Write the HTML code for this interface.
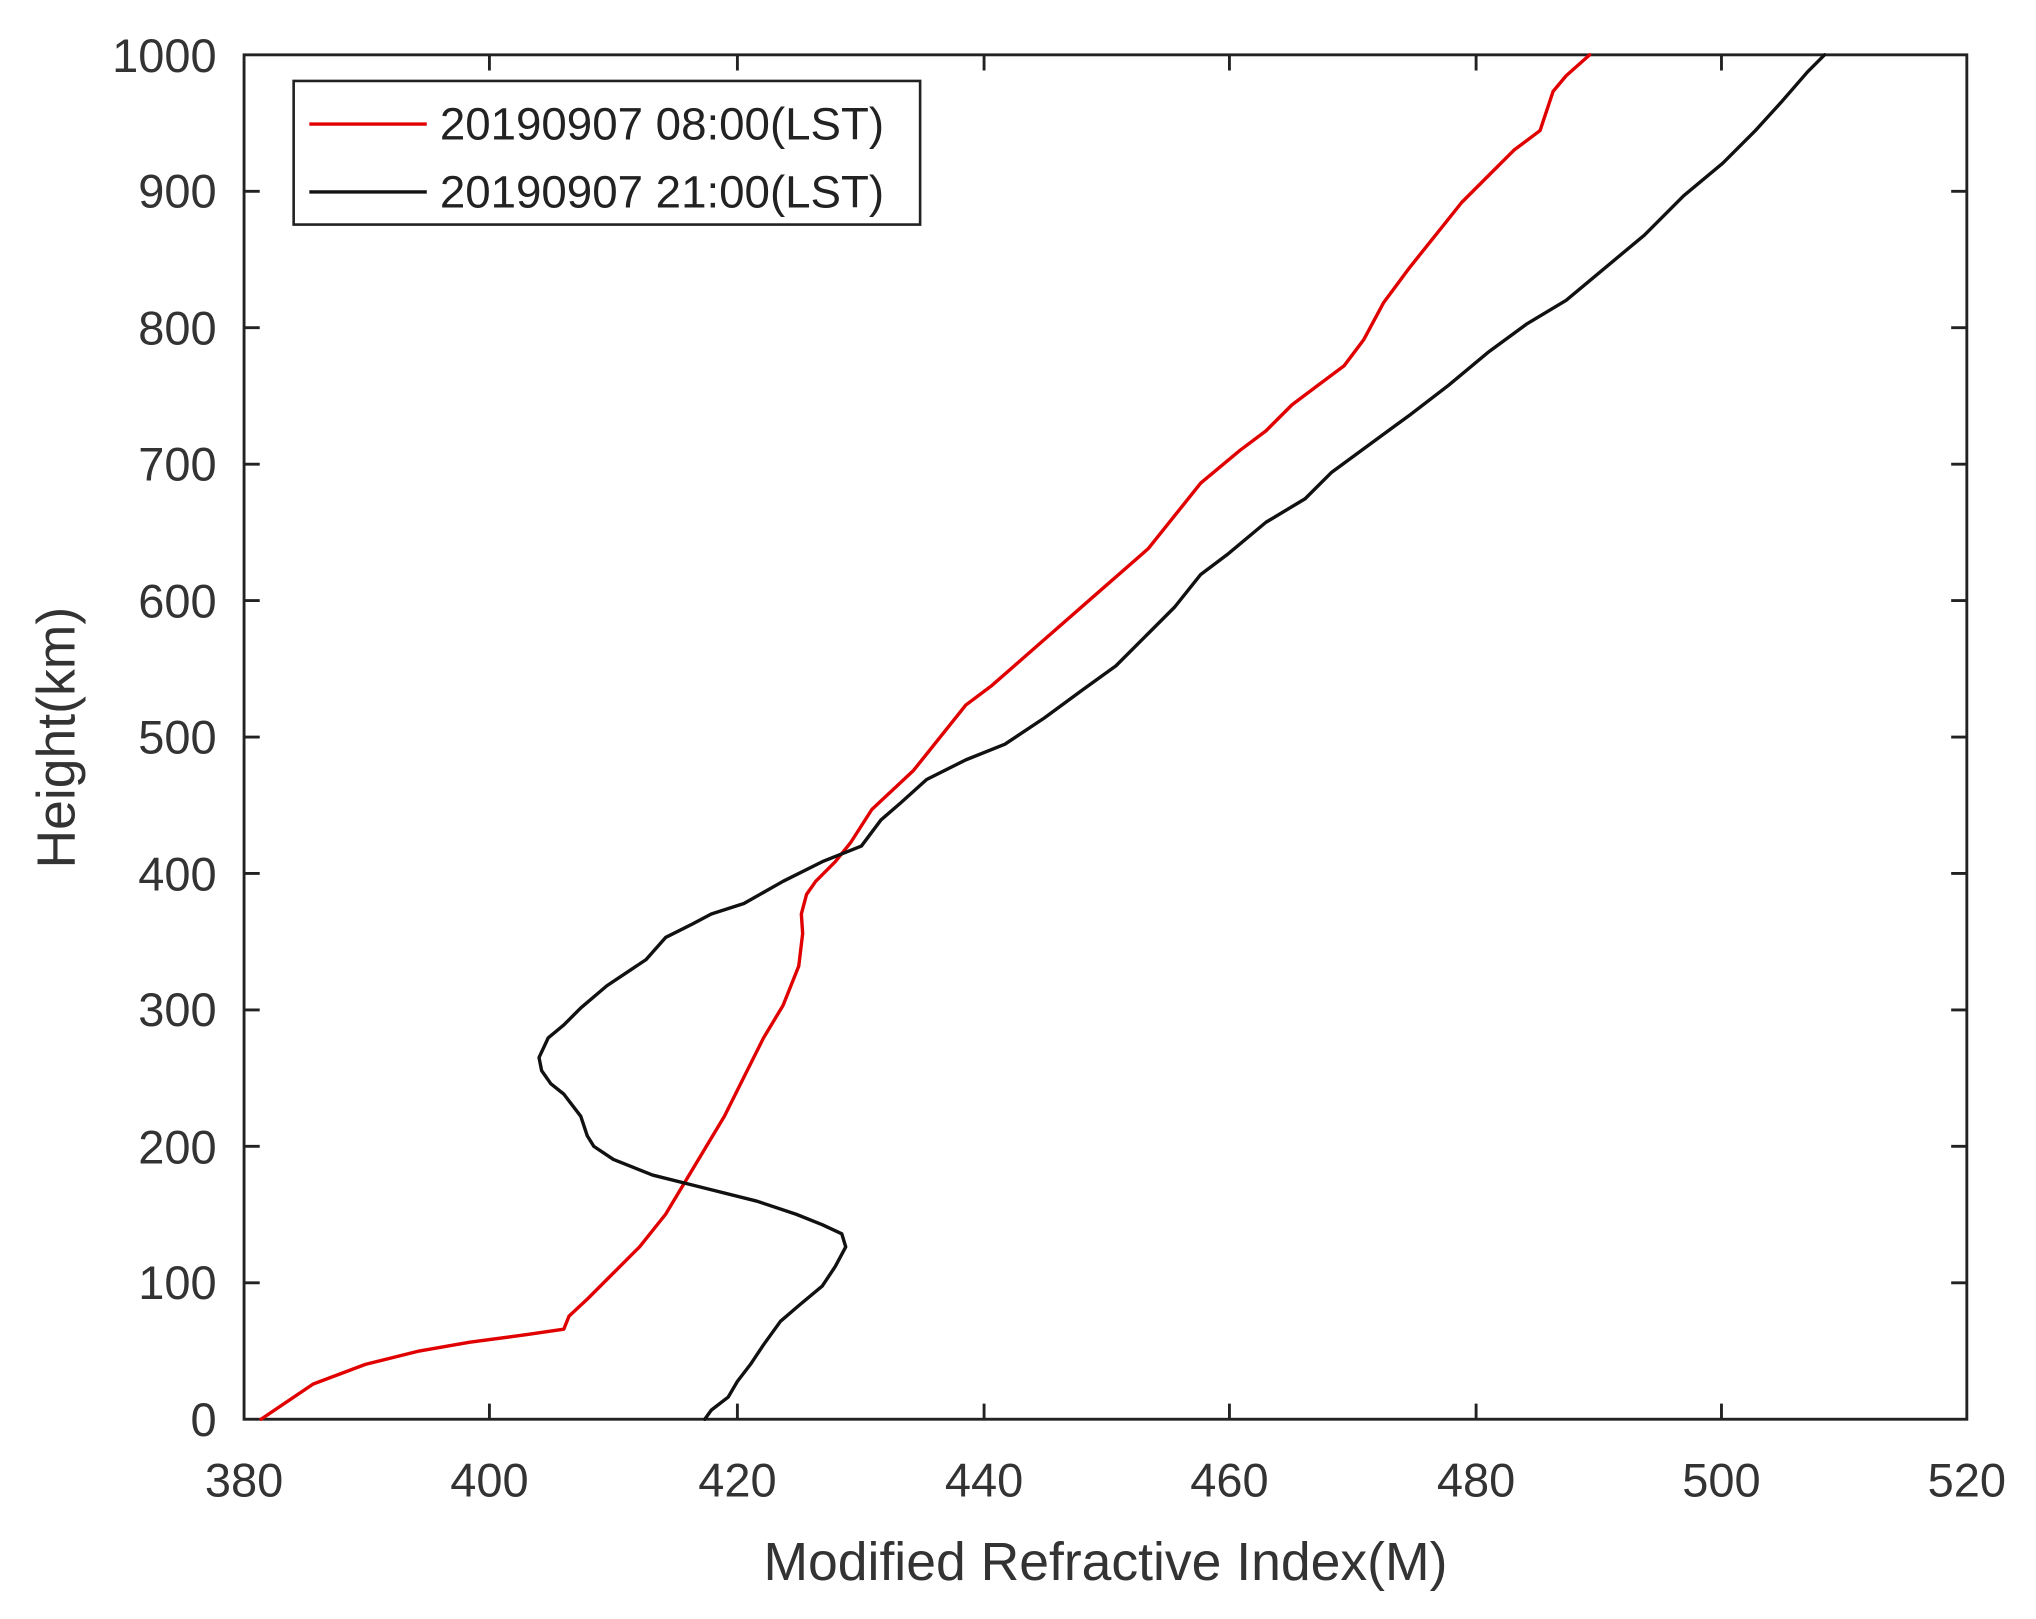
<!DOCTYPE html>
<html><head><style>html,body{margin:0;padding:0;background:#fff}svg{display:block}</style></head>
<body>
<svg width="2036" height="1619" viewBox="0 0 1560 1240" preserveAspectRatio="none" xmlns="http://www.w3.org/2000/svg" font-family="Liberation Sans, sans-serif">
<rect width="1560" height="1240" fill="#fff"/>
<g stroke="#222" stroke-width="2.2" fill="none">
<rect x="187" y="42" width="1320" height="1045"/>
<path d="M375,1087v-12M565,1087v-12M754,1087v-12M942,1087v-12M1131,1087v-12M1319,1087v-12
M375,42v12M565,42v12M754,42v12M942,42v12M1131,42v12M1319,42v12
M187,982.5h12M187,878h12M187,773.5h12M187,669h12M187,564.5h12M187,460h12M187,355.5h12M187,251h12M187,146.5h12
M1507,982.5h-12M1507,878h-12M1507,773.5h-12M1507,669h-12M1507,564.5h-12M1507,460h-12M1507,355.5h-12M1507,251h-12M1507,146.5h-12"/>
</g>
<g fill="#333" font-size="36" text-anchor="end">
<text x="166" y="1100">0</text><text x="166" y="995">100</text><text x="166" y="891">200</text><text x="166" y="786">300</text><text x="166" y="682">400</text><text x="166" y="577">500</text><text x="166" y="473">600</text><text x="166" y="368">700</text><text x="166" y="264">800</text><text x="166" y="159">900</text><text x="166" y="55">1000</text>
</g>
<g fill="#333" font-size="36" text-anchor="middle">
<text x="187" y="1146">380</text><text x="375" y="1146">400</text><text x="565" y="1146">420</text><text x="754" y="1146">440</text><text x="942" y="1146">460</text><text x="1131" y="1146">480</text><text x="1319" y="1146">500</text><text x="1507" y="1146">520</text>
<text x="847" y="1210" font-size="41">Modified Refractive Index(M)</text>
<text transform="translate(57,565) rotate(-90)" font-size="41">Height(km)</text>
</g>
<g fill="none" stroke-width="2.6" stroke-linejoin="round" stroke-linecap="round">
<polyline stroke="#e00000" points="200,1087 240,1060 280,1045 320,1035 360,1028 405,1022 432,1018 436,1008 450,995 470,975 490,955 510,930 525,905 540,880 555,855 570,825 585,795 600,770 612,740 615,715 614,700 618,685 625,675 640,660 652,645 668,620 700,590 740,540 760,525 800,490 840,455 880,420 900,395 920,370 950,345 970,330 990,310 1010,295 1030,280 1045,260 1060,232 1080,205 1100,180 1120,155 1140,135 1160,115 1180,100 1190,70 1200,58 1218,42"/>
<polyline stroke="#111" points="540,1087 545,1080 558,1070 565,1058 575,1045 585,1030 598,1012 612,1000 630,985 640,970 648,955 645,945 630,938 610,930 580,920 540,910 500,900 470,888 455,878 450,870 445,855 432,838 422,830 415,820 413,810 420,795 432,785 445,772 465,755 480,745 495,735 510,718 530,708 545,700 570,692 600,675 630,660 660,648 675,628 690,615 710,597 740,582 770,570 800,550 830,528 855,510 880,485 900,465 920,440 940,425 970,400 1000,382 1020,362 1050,340 1080,318 1110,295 1140,270 1170,248 1200,230 1230,205 1260,180 1290,150 1320,125 1345,100 1365,78 1385,55 1398,42"/>
</g>
<rect x="225" y="62" width="480" height="110" fill="#fff" stroke="#222" stroke-width="2"/>
<line x1="237" y1="95" x2="327" y2="95" stroke="#e00000" stroke-width="2.6"/>
<line x1="237" y1="147" x2="327" y2="147" stroke="#111" stroke-width="2.6"/>
<g fill="#222" font-size="35"><text x="337" y="107">20190907 08:00(LST)</text><text x="337" y="159">20190907 21:00(LST)</text></g>
</svg>
</body></html>
